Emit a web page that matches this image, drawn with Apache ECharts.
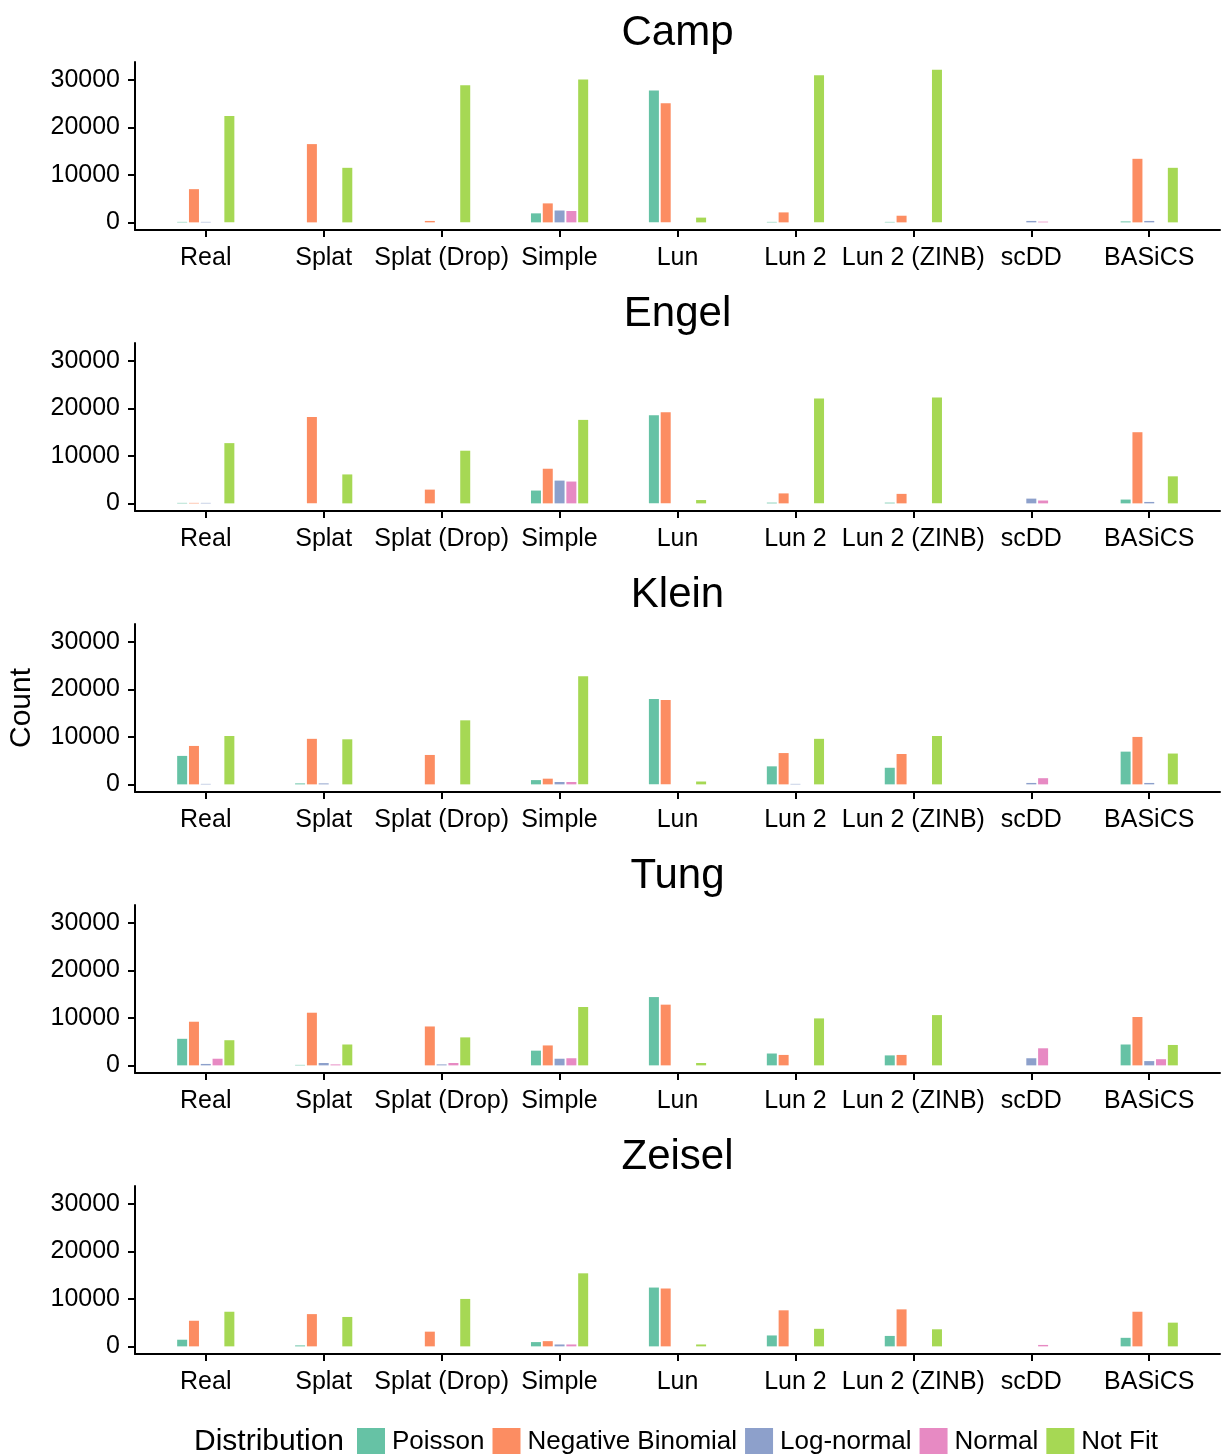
<!DOCTYPE html>
<html>
<head>
<meta charset="utf-8">
<script src="https://cdn.jsdelivr.net/npm/echarts@6/dist/echarts.min.js"></script>
<style>
  html, body { margin: 0; padding: 0; background: #fff; }
  #chart { width: 1225px; height: 1454px; }
</style>
</head>
<body>
<div id="chart"></div>
<script>
// Simulators compared against the real data
const categories = ['Real', 'Splat', 'Splat (Drop)', 'Simple', 'Lun', 'Lun 2', 'Lun 2 (ZINB)', 'scDD', 'BASiCS'];
const distributions = ['Poisson', 'Negative Binomial', 'Log-normal', 'Normal', 'Not Fit'];
const datasetNames = ['Camp', 'Engel', 'Klein', 'Tung', 'Zeisel'];
const yTicks = [0, 10000, 20000, 30000];

// Gene counts per best-fitting distribution, one array per dataset and distribution
const campPoisson   = [100, 0, 0, 1900, 27800, 100, 100, 0, 200];
const campNegBin    = [7000, 16500, 300, 4000, 25100, 2100, 1400, 0, 13400];
const campLogNormal = [100, 0, 0, 2500, 0, 0, 0, 300, 300];
const campNormal    = [0, 0, 0, 2400, 0, 0, 0, 150, 0];
const campNotFit    = [22400, 11500, 28900, 30100, 1000, 31000, 32200, 0, 11500];

const engelPoisson   = [100, 0, 0, 2700, 18600, 150, 150, 0, 800];
const engelNegBin    = [100, 18200, 2900, 7300, 19200, 2100, 2000, 0, 15000];
const engelLogNormal = [100, 0, 0, 4800, 0, 0, 0, 1000, 300];
const engelNormal    = [0, 0, 0, 4600, 0, 0, 0, 600, 0];
const engelNotFit    = [12700, 6100, 11100, 17600, 700, 22100, 22300, 0, 5700];

const kleinPoisson   = [6000, 200, 0, 900, 18000, 3800, 3500, 0, 6900];
const kleinNegBin    = [8100, 9600, 6200, 1200, 17800, 6600, 6400, 0, 10000];
const kleinLogNormal = [100, 200, 0, 500, 0, 100, 0, 300, 300];
const kleinNormal    = [0, 0, 0, 500, 0, 0, 0, 1300, 0];
const kleinNotFit    = [10200, 9500, 13500, 22800, 600, 9600, 10200, 0, 6500];

const tungPoisson   = [5600, 100, 0, 3100, 14400, 2500, 2100, 0, 4400];
const tungNegBin    = [9200, 11100, 8200, 4200, 12800, 2200, 2200, 0, 10200];
const tungLogNormal = [300, 500, 200, 1400, 0, 0, 0, 1500, 900];
const tungNormal    = [1400, 200, 500, 1500, 0, 0, 0, 3600, 1300];
const tungNotFit    = [5300, 4400, 5900, 12300, 500, 9900, 10600, 0, 4300];

const zeiselPoisson   = [1400, 200, 0, 900, 12400, 2300, 2200, 0, 1800];
const zeiselNegBin    = [5400, 6800, 3100, 1100, 12200, 7600, 7800, 0, 7300];
const zeiselLogNormal = [0, 0, 0, 400, 0, 0, 0, 0, 0];
const zeiselNormal    = [0, 0, 0, 400, 0, 0, 0, 300, 0];
const zeiselNotFit    = [7300, 6200, 10000, 15400, 400, 3700, 3600, 0, 5000];

const panels = [
  [campPoisson, campNegBin, campLogNormal, campNormal, campNotFit],
  [engelPoisson, engelNegBin, engelLogNormal, engelNormal, engelNotFit],
  [kleinPoisson, kleinNegBin, kleinLogNormal, kleinNormal, kleinNotFit],
  [tungPoisson, tungNegBin, tungLogNormal, tungNormal, tungNotFit],
  [zeiselPoisson, zeiselNegBin, zeiselLogNormal, zeiselNormal, zeiselNotFit]
];

const palette = ['#66C2A5', '#FC8D62', '#8DA0CB', '#E78AC3', '#A6D854'];
const FONT = '"Liberation Sans", Arial, Helvetica, sans-serif';

const chart = echarts.init(document.getElementById('chart'), null, { renderer: 'canvas' });

const PANEL_STEP = 281;
const GRID_TOP = 62;
const GRID_H = 168;
const GRID_LEFT = 135;
const GRID_RIGHT = 5;

const titles = [];
const grids = [];
const xAxes = [];
const yAxes = [];
const series = [];

datasetNames.forEach((name, k) => {
  const off = k * PANEL_STEP;
  titles.push({
    text: name,
    left: 677.5,
    top: 12 + off,
    textAlign: 'center',
    padding: 0,
    textStyle: { fontFamily: FONT, fontSize: 42, fontWeight: 'normal', color: '#000' }
  });
  grids.push({
    left: GRID_LEFT, right: GRID_RIGHT, top: GRID_TOP + off, height: GRID_H,
    containLabel: false, outerBoundsMode: 'none'
  });
  xAxes.push({
    type: 'value',
    gridIndex: k,
    min: 0.4,
    max: categories.length + 0.6,
    splitLine: { show: false },
    axisLine: { show: true, onZero: false, lineStyle: { color: '#000', width: 2 } },
    axisTick: { show: true, length: 7, lineStyle: { color: '#000', width: 2 },
                customValues: categories.map((c, i) => i + 1) },
    axisLabel: {
      show: true, margin: 16, color: '#000', fontFamily: FONT, fontSize: 25,
      customValues: categories.map((c, i) => i + 1),
      formatter: v => categories[Math.round(v) - 1] || ''
    }
  });
  yAxes.push({
    type: 'value',
    gridIndex: k,
    min: -1610,
    max: 33810,
    splitLine: { show: false },
    axisLine: { show: true, onZero: false, lineStyle: { color: '#000', width: 2 } },
    axisTick: { show: true, length: 7, lineStyle: { color: '#000', width: 2 }, customValues: yTicks },
    axisLabel: {
      show: true, margin: 15, color: '#000', fontFamily: FONT, fontSize: 25,
      customValues: yTicks,
      formatter: v => String(v)
    },
    name: k === 2 ? 'Count' : '',
    nameLocation: 'middle',
    nameRotate: 90,
    nameGap: 98,
    nameTextStyle: { fontFamily: FONT, fontSize: 30, color: '#000' }
  });
  panels[k].forEach((values, d) => {
    series.push({
      type: 'bar',
      name: distributions[d],
      xAxisIndex: k,
      yAxisIndex: k,
      barWidth: 10,
      barGap: '18%',
      itemStyle: { color: palette[d] },
      data: values.map((v, i) => [i + 1, v])
    });
  });
});

titles.push({
  text: 'Distribution',
  left: 194,
  top: 1427,
  padding: 0,
  textStyle: { fontFamily: FONT, fontSize: 30, fontWeight: 'normal', color: '#000' }
});

chart.setOption({
  backgroundColor: '#fff',
  animation: false,
  title: titles,
  grid: grids,
  xAxis: xAxes,
  yAxis: yAxes,
  legend: {
    data: distributions.map((d, i) => ({ name: d, itemStyle: { color: palette[i] } })),
    orient: 'horizontal',
    left: 357,
    top: 1428,
    padding: 0,
    icon: 'rect',
    itemWidth: 28,
    itemHeight: 28,
    itemGap: 8,
    textStyle: { fontFamily: FONT, fontSize: 26, color: '#000', padding: [0, 0, 0, 2] }
  },
  series: series
});
</script>
</body>
</html>
